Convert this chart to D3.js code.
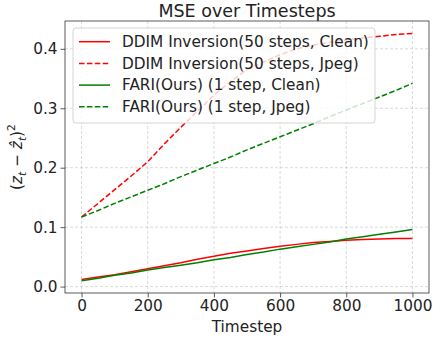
<!DOCTYPE html>
<html>
<head>
<meta charset="utf-8">
<script src="https://cdn.jsdelivr.net/npm/d3@7"></script>
<style>
  body { margin: 0; background: #fff; }
  svg { font-family: "DejaVu Sans", sans-serif; }
</style>
</head>
<body>
<div id="chart"></div>
<script>
// timesteps sampled along the x axis
const timesteps = [0, 50, 100, 150, 200, 250, 300, 350, 400, 450, 500, 550, 600, 650, 700, 750, 800, 850, 900, 950, 1000];

const ddimClean = [0.012, 0.016, 0.020, 0.025, 0.030, 0.035, 0.040, 0.046, 0.051, 0.056, 0.060, 0.064, 0.068, 0.071, 0.074, 0.076, 0.078, 0.079, 0.080, 0.081, 0.081];
const ddimJpeg  = [0.117, 0.140, 0.163, 0.186, 0.210, 0.240, 0.268, 0.295, 0.322, 0.345, 0.365, 0.378, 0.390, 0.400, 0.406, 0.411, 0.415, 0.418, 0.421, 0.424, 0.426];
const fariClean = [0.010, 0.014, 0.019, 0.023, 0.028, 0.032, 0.036, 0.040, 0.045, 0.049, 0.054, 0.058, 0.063, 0.067, 0.071, 0.075, 0.080, 0.084, 0.088, 0.092, 0.096];
const fariJpeg  = [0.117, 0.128, 0.140, 0.151, 0.162, 0.173, 0.185, 0.196, 0.207, 0.218, 0.230, 0.241, 0.252, 0.263, 0.274, 0.286, 0.297, 0.308, 0.319, 0.330, 0.342];

const seriesNames = [
  "DDIM Inversion(50 steps, Clean)",
  "DDIM Inversion(50 steps, Jpeg)",
  "FARI(Ours) (1 step, Clean)",
  "FARI(Ours) (1 step, Jpeg)"
];
const seriesValues = [ddimClean, ddimJpeg, fariClean, fariJpeg];
const seriesColors = ["#ff0000", "#ff0000", "#008000", "#008000"];
const seriesDashed = [false, true, false, true];

const xTicks = [0, 200, 400, 600, 800, 1000];
const yTicks = [0.0, 0.1, 0.2, 0.3, 0.4];

const width = 433, height = 339;
const margin = { top: 21, right: 4, bottom: 46, left: 65 };
const fs = 15.3;

const svg = d3.select("#chart").append("svg")
  .attr("width", width)
  .attr("height", height);

const allY = seriesValues.flat();
const yMin = d3.min(allY), yMax = d3.max(allY), yPad = (yMax - yMin) * 0.05;

const x = d3.scaleLinear()
  .domain([-50, 1050])
  .range([margin.left, width - margin.right]);
const y = d3.scaleLinear()
  .domain([yMin - yPad, yMax + yPad])
  .range([height - margin.bottom, margin.top]);

// grid
const grid = svg.append("g")
  .attr("stroke", "#b0b0b0")
  .attr("stroke-opacity", 0.6)
  .attr("stroke-width", 0.8)
  .attr("stroke-dasharray", "3,2");
grid.selectAll(".gx").data(xTicks).join("line")
  .attr("x1", d => x(d)).attr("x2", d => x(d))
  .attr("y1", margin.top).attr("y2", height - margin.bottom);
grid.selectAll(".gy").data(yTicks).join("line")
  .attr("y1", d => y(d)).attr("y2", d => y(d))
  .attr("x1", margin.left).attr("x2", width - margin.right);

// lines
const line = d3.line()
  .x((d, i) => x(timesteps[i]))
  .y(d => y(d));

svg.append("g").selectAll("path")
  .data(seriesValues)
  .join("path")
  .attr("fill", "none")
  .attr("stroke", (d, i) => seriesColors[i])
  .attr("stroke-width", 1.5)
  .attr("stroke-dasharray", (d, i) => seriesDashed[i] ? "5.5,2.4" : null)
  .attr("d", line);

// axes
const xAxis = svg.append("g")
  .attr("transform", `translate(0,${height - margin.bottom})`)
  .call(d3.axisBottom(x).tickValues(xTicks).tickSize(4.5).tickPadding(3).tickFormat(d3.format("d")));
const yAxis = svg.append("g")
  .attr("transform", `translate(${margin.left},0)`)
  .call(d3.axisLeft(y).tickValues(yTicks).tickSize(4.5).tickPadding(3).tickFormat(d3.format(".1f")));
[xAxis, yAxis].forEach(a => {
  a.select(".domain").remove();
  a.selectAll("line").attr("stroke", "#333").attr("stroke-width", 0.8);
  a.selectAll("text").attr("font-size", fs).attr("fill", "#222")
    .attr("font-family", "DejaVu Sans");
});

// frame
svg.append("rect")
  .attr("x", margin.left).attr("y", margin.top)
  .attr("width", width - margin.left - margin.right)
  .attr("height", height - margin.top - margin.bottom)
  .attr("fill", "none")
  .attr("stroke", "#333")
  .attr("stroke-width", 0.8);

// title
svg.append("text")
  .attr("x", (margin.left + width - margin.right) / 2)
  .attr("y", 16.5)
  .attr("text-anchor", "middle")
  .attr("font-size", 17.5)
  .attr("fill", "#222")
  .text("MSE over Timesteps");

// x label
svg.append("text")
  .attr("x", (margin.left + width - margin.right) / 2)
  .attr("y", 332)
  .attr("text-anchor", "middle")
  .attr("font-size", fs)
  .attr("fill", "#222")
  .text("Timestep");

// y label
const yl = svg.append("text")
  .attr("transform", `translate(22,${(margin.top + height - margin.bottom) / 2}) rotate(-90)`)
  .attr("text-anchor", "middle")
  .attr("font-size", fs)
  .attr("fill", "#222");
yl.append("tspan").text("(");
yl.append("tspan").attr("font-style", "italic").text("z");
yl.append("tspan").attr("font-style", "italic").attr("font-size", 10.7).attr("dy", 3.5).text("t");
yl.append("tspan").attr("dy", -3.5).text(" − ");
yl.append("tspan").attr("font-style", "italic").text("ẑ");
yl.append("tspan").attr("font-style", "italic").attr("font-size", 10.7).attr("dy", 3.5).text("t");
yl.append("tspan").attr("dy", -3.5).text(")");
yl.append("tspan").attr("font-size", 10.7).attr("dy", -7).text("2");

// legend
const lg = svg.append("g").attr("transform", "translate(73,28)");
lg.append("rect")
  .attr("width", 302).attr("height", 95)
  .attr("rx", 3)
  .attr("fill", "#fff").attr("fill-opacity", 0.8)
  .attr("stroke", "#ccc").attr("stroke-width", 0.8);
const items = lg.selectAll(".item").data(seriesNames).join("g")
  .attr("transform", (d, i) => `translate(0,${13.7 + i * 21.7})`);
items.append("line")
  .attr("x1", 6).attr("x2", 37)
  .attr("stroke", (d, i) => seriesColors[i])
  .attr("stroke-width", 1.5)
  .attr("stroke-dasharray", (d, i) => seriesDashed[i] ? "5.5,2.4" : null);
items.append("text")
  .attr("x", 49).attr("dy", "0.35em")
  .attr("font-size", fs)
  .attr("fill", "#222")
  .text(d => d);
</script>
</body>
</html>
